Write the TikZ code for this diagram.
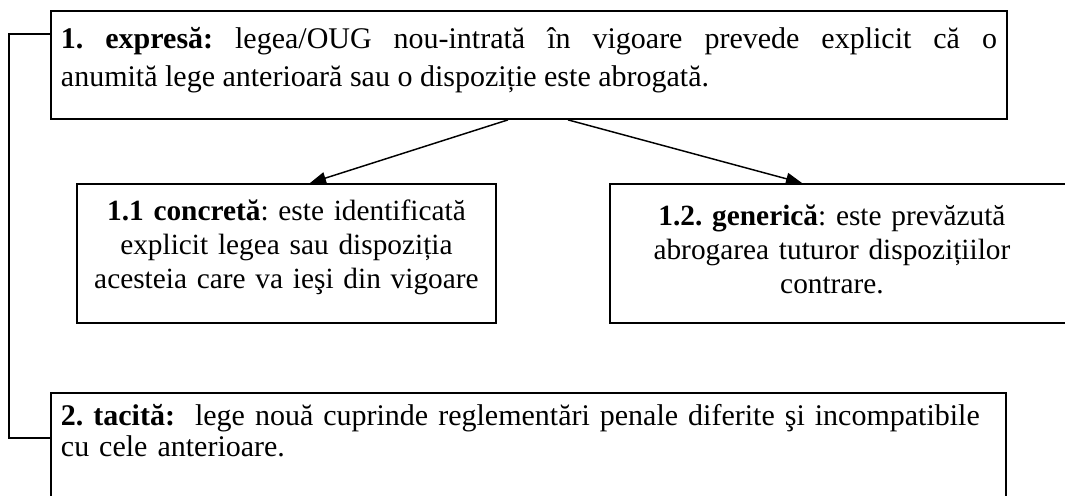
\documentclass[tikz,border=0pt]{standalone}
\usepackage{fontspec}
\setmainfont{Liberation Serif}
\usetikzlibrary{arrows.meta,calc}

\begin{document}
\frenchspacing
\begin{tikzpicture}[
    x=0.75pt, y=-0.75pt,
    textbox/.style={rectangle, draw, line width=1.4pt, anchor=north west, inner xsep=7.5pt, inner ysep=0pt},
    arrow/.style={-{Triangle[length=12pt, width=9pt]}, line width=1.1pt},
    bracket/.style={line width=1.1pt}
]

% Frame
\useasboundingbox (0,0) rectangle (1065,496);

% Top box
\node[textbox, text width=702pt, align=justify, text height=28.5pt, text depth=52.5pt,
      font=\fontsize{22.5pt}{28.5pt}\selectfont] (expresa) at (50,10)
  {\textbf{1. expresă:} legea/OUG nou-intrată în vigoare prevede explicit că o\linebreak
   anumită lege anterioară sau o dispoziție este abrogată.};

% Sub boxes
\node[textbox, text width=299.25pt, align=center, text height=27.75pt, text depth=76.5pt,
      font=\fontsize{22pt}{25.5pt}\selectfont] (concreta) at (76,183)
  {\textbf{1.1 concretă}: este identificată\\ explicit legea sau dispoziția\\ acesteia care va ieşi din vigoare};
\node[textbox, text width=342pt, align=left, text height=31.5pt, text depth=72.75pt,
      font=\fontsize{22pt}{25.5pt}\selectfont] (generica) at (609,183)
  {\parbox[t]{318pt}{\centering\textbf{1.2. generică}: este prevăzută\\ abrogarea tuturor dispozițiilor\\ contrare.}};

% Bottom box
\node[textbox, text width=701.25pt, align=left, text height=24.75pt, text depth=90pt,
      font=\fontsize{22.5pt}{23pt}\selectfont] (tacita) at (50,392)
  {\textbf{2. tacită:}\ \ lege nouă cuprinde reglementări penale diferite şi \mbox{incompatibile}\\ cu cele anterioare.};

% Arrows
\draw[arrow] ($(expresa.south west)+(458,0)$) -- ($(concreta.north west)+(234,0)$);
\draw[arrow] ($(expresa.south west)+(518,0)$) -- ($(generica.north west)+(193,0)$);

% Left bracket
\draw[bracket] ($(expresa.north west)+(0,24)$) -- ++(-41,0) |- ($(tacita.north west)+(0,46)$);

\end{tikzpicture}
\end{document}
